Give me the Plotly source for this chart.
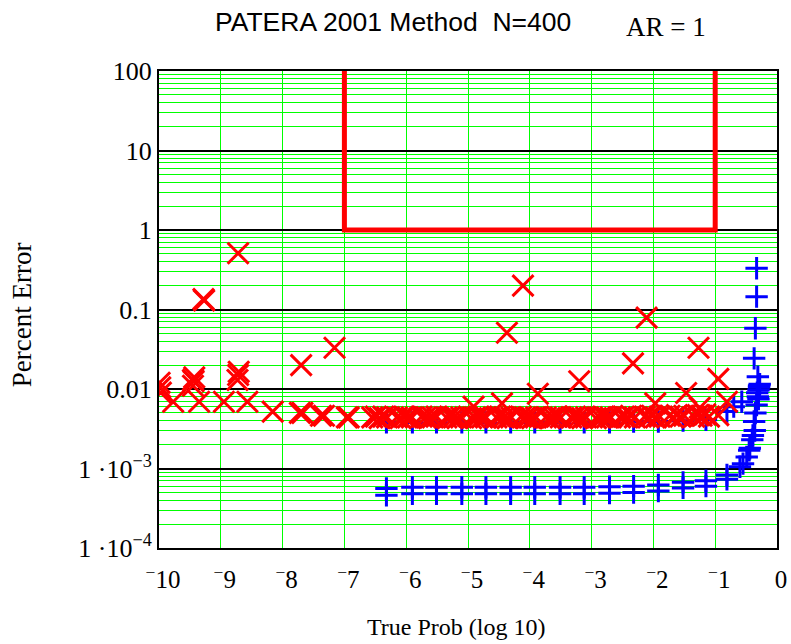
import plotly.graph_objects as go

# ---- data: log10 of the true probability vs. percent error ----
# red "x" series
red_x = [
    -9.99, -9.98, -9.97, -9.77,
    -9.45, -9.44, -9.43, -9.45, -9.35, -9.28, -9.27,
    -8.95, -8.73, -8.72, -8.71, -8.72, -8.57,
    -8.16, -7.72, -7.68, -7.70, -7.38, -7.33, -7.16, -6.96, -6.93,
    -6.55, -6.49, -6.43, -6.37, -6.31,
    -6.15, -6.09, -6.03, -5.97, -5.91,
    -5.75, -5.69, -5.63, -5.57, -5.51,
    -5.35, -5.29, -5.23, -5.17, -5.11,
    -4.95, -4.89, -4.83, -4.77, -4.71,
    -4.54, -4.48, -4.42, -4.36, -4.30,
    -4.14, -4.08, -4.02, -3.96, -3.90,
    -3.74, -3.68, -3.62, -3.56, -3.50,
    -3.33, -3.27, -3.21, -3.15, -3.09,
    -2.93, -2.87, -2.81, -2.75, -2.69,
    -2.54, -2.48, -2.42, -2.36, -2.30,
    -2.14, -2.08, -2.02, -1.96, -1.90,
    -1.74, -1.68, -1.62, -1.56, -1.50,
    -1.34, -1.28, -1.22, -1.16, -1.10,
    -4.91, -4.45, -4.37, -4.11, -3.87, -3.20, -2.33, -2.11, -1.97,
    -1.47, -1.27, -1.25, -0.95, -0.95, -0.81,
]
red_y = [
    0.0120, 0.0105, 0.0090, 0.0069,
    0.0110, 0.0125, 0.0140, 0.0130, 0.0069, 0.135, 0.130,
    0.0069, 0.0130, 0.0150, 0.0165, 0.51, 0.0069,
    0.0052, 0.0050, 0.0050, 0.0200, 0.0046, 0.0046, 0.033, 0.0044, 0.0044,
    0.0044, 0.0045, 0.0043, 0.0045, 0.0044,
    0.0044, 0.0043, 0.0045, 0.0044, 0.0044,
    0.0045, 0.0044, 0.0043, 0.0044, 0.0045,
    0.0044, 0.0045, 0.0044, 0.0043, 0.0044,
    0.0043, 0.0044, 0.0045, 0.0044, 0.0044,
    0.0044, 0.0045, 0.0044, 0.0043, 0.0044,
    0.0045, 0.0044, 0.0044, 0.0043, 0.0044,
    0.0044, 0.0043, 0.0044, 0.0045, 0.0044,
    0.0044, 0.0045, 0.0044, 0.0043, 0.0044,
    0.0043, 0.0044, 0.0045, 0.0044, 0.0044,
    0.0044, 0.0045, 0.0044, 0.0046, 0.0044,
    0.0045, 0.0044, 0.0046, 0.0044, 0.0045,
    0.0046, 0.0044, 0.0047, 0.0045, 0.0046,
    0.0045, 0.0047, 0.0046, 0.0048, 0.0045,
    0.0060, 0.0066, 0.051, 0.20, 0.0087, 0.0125, 0.021, 0.079, 0.0066,
    0.0089, 0.033, 0.0058, 0.0134, 0.0047, 0.0069,
]

# blue "+" series
blue_x = [
    -6.32, -6.32, -5.90, -5.90, -5.51, -5.51, -5.10, -5.10, -4.71, -4.71,
    -4.31, -4.31, -3.92, -3.92, -3.51, -3.51, -3.12, -3.12, -2.71, -2.71,
    -2.32, -2.32, -1.92, -1.92, -1.52, -1.52, -1.15, -1.15, -0.81, -0.81,
    -6.32, -5.90, -5.51, -5.10, -4.71, -4.31, -3.92, -3.51, -3.12, -2.71,
    -2.32, -1.92, -1.52, -1.15,
    -0.60, -0.55, -0.49, -0.44, -0.40, -0.39, -0.37, -0.35, -0.33, -0.31,
    -0.30, -0.29, -0.31, -0.28, -0.32, -0.37, -0.35, -0.33, -0.33,
    -0.57, -0.81, -0.70, -0.45, -0.30, -0.29, -0.36,
]
blue_y = [
    4.6e-4, 5.6e-4, 4.8e-4, 5.8e-4, 4.8e-4, 5.8e-4, 4.8e-4, 5.8e-4, 4.8e-4, 5.8e-4,
    4.8e-4, 5.8e-4, 4.8e-4, 5.8e-4, 4.8e-4, 5.8e-4, 4.8e-4, 5.8e-4, 4.9e-4, 5.9e-4,
    5.0e-4, 6.0e-4, 5.2e-4, 6.2e-4, 5.7e-4, 6.7e-4, 6.0e-4, 7.0e-4, 7.3e-4, 8.3e-4,
    0.0038, 0.0038, 0.0038, 0.0038, 0.0038, 0.0038, 0.0038, 0.0038, 0.0038, 0.0038,
    0.0039, 0.0039, 0.0040, 0.0041,
    1.05e-3, 1.15e-3, 1.4e-3, 1.8e-3, 2.3e-3, 2.6e-3, 3.9e-3, 5.0e-3, 6.3e-3, 8.0e-3,
    9.7e-3, 0.0105, 0.0143, 0.0115, 0.0090, 0.0243, 0.058, 0.145, 0.33,
    0.0069, 0.0052, 0.0060, 0.0017, 0.0075, 0.0110, 0.0030,
]

# limit line
limit_x = [-7, -7, -1, -1]
limit_y = [100, 1, 1, 100]

x_ticks = [-10, -9, -8, -7, -6, -5, -4, -3, -2, -1, 0]
x_tick_text = ["<sup>\u2212</sup>10", "<sup>\u2212</sup>9", "<sup>\u2212</sup>8",
               "<sup>\u2212</sup>7", "<sup>\u2212</sup>6", "<sup>\u2212</sup>5",
               "<sup>\u2212</sup>4", "<sup>\u2212</sup>3", "<sup>\u2212</sup>2",
               "<sup>\u2212</sup>1", "0"]
y_ticks = [100, 10, 1, 0.1, 0.01, 1e-3, 1e-4]
y_tick_text = ["100", "10", "1", "0.1", "0.01",
               "1 \u00b710<sup>\u22123</sup>", "1 \u00b710<sup>\u22124</sup>"]

serif = "Liberation Serif, Times New Roman, serif"
sans = "Liberation Sans, Arial, sans-serif"

fig = go.Figure()
fig.add_trace(go.Scatter(
    x=blue_x, y=blue_y, mode="markers",
    marker=dict(symbol="cross-thin", size=16, color="#0000ff",
                line=dict(color="#0000ff", width=3)),
))
fig.add_trace(go.Scatter(
    x=red_x, y=red_y, mode="markers",
    marker=dict(symbol="x-thin", size=21, color="#ff0000",
                line=dict(color="#ff0000", width=3)),
))
fig.add_trace(go.Scatter(
    x=limit_x, y=limit_y, mode="lines",
    line=dict(color="#ff0000", width=5),
))

fig.update_layout(
    width=791, height=644,
    margin=dict(l=159, r=14, t=71, b=96, autoexpand=False),
    paper_bgcolor="white", plot_bgcolor="white",
    showlegend=False,
    font=dict(family=serif, size=25, color="black"),
    annotations=[
        dict(text="PATERA 2001 Method  N=400", xref="paper", yref="paper",
             x=0.379, y=1.103, xanchor="center", yanchor="middle",
             showarrow=False, font=dict(family=sans, size=26.5, color="black")),
        dict(text="AR = 1", xref="paper", yref="paper",
             x=0.82, y=1.092, xanchor="center", yanchor="middle",
             showarrow=False, font=dict(family=serif, size=27, color="black")),
        dict(text="True Prob (log 10)", xref="paper", yref="paper",
             x=0.48, y=-0.166, xanchor="center", yanchor="middle",
             showarrow=False, font=dict(family=serif, size=24, color="black")),
        dict(text="Percent Error", xref="paper", yref="paper", textangle=-90,
             x=-0.2217, y=0.49, xanchor="center", yanchor="middle",
             showarrow=False, font=dict(family=serif, size=27, color="black")),
    ],
)
fig.update_xaxes(
    range=[-10, 0], tickvals=x_ticks, ticktext=x_tick_text,
    showgrid=True, gridcolor="#00ff00", gridwidth=1, zeroline=False,
    showline=True, linecolor="black", linewidth=2, mirror=True,
    ticks="outside", ticklen=8, tickcolor="rgba(0,0,0,0)",
    ticklabelshift=4, automargin=False,
    tickfont=dict(family=serif, size=25),
)
fig.update_yaxes(
    type="log", range=[-4, 2], tickvals=y_ticks, ticktext=y_tick_text,
    showgrid=True, gridcolor="black", gridwidth=2, zeroline=False,
    showline=True, linecolor="black", linewidth=2, mirror=True,
    minor=dict(dtick="D1", showgrid=True, gridcolor="#00ff00", gridwidth=1),
    ticks="", ticklabelstandoff=0, automargin=False,
    tickfont=dict(family=serif, size=26),
)

fig.write_html("out.html")
